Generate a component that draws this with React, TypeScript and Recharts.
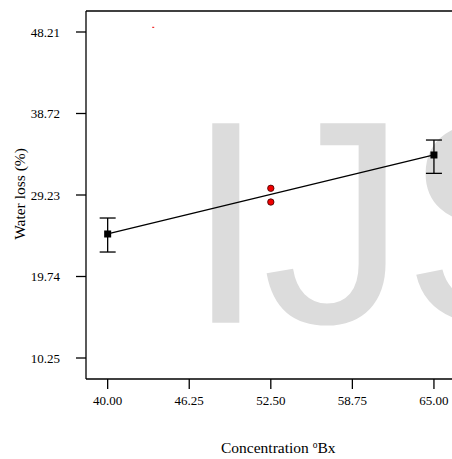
import {
  ComposedChart,
  ErrorBar,
  ReferenceLine,
  Scatter,
  XAxis,
  YAxis,
} from "recharts"

// design points (fitted line ends) with error bars [below, above]
const designX = [40, 65]
const designY = [24.69, 33.89]
const designErr = [
  [2.1, 1.86],
  [2.14, 1.74],
]

// actual runs at the centre point
const centreX = [52.5, 52.5]
const centreY = [30.01, 28.41]

// stray mark near the top
const strayX = [43.49]
const strayY = [48.76]

const X_TICKS = [40, 46.25, 52.5, 58.75, 65]
const Y_TICKS = [10.25, 19.74, 29.23, 38.72, 48.21]
const X_DOMAIN: [number, number] = [38.34, 66.69]
const Y_DOMAIN: [number, number] = [7.805, 50.655]

const SERIF = '"Liberation Serif", "Times New Roman", serif'

const designData = designX.map((x, i) => ({ x, y: designY[i], err: designErr[i] }))
const centreData = centreX.map((x, i) => ({ x, y: centreY[i] }))
const strayData = strayX.map((x, i) => ({ x, y: strayY[i] }))

function SquareDot(p: any) {
  return <rect x={p.cx - 3.5} y={p.cy - 3.5} width={7} height={7} fill="#000" />
}

function RedDot(p: any) {
  return <circle cx={p.cx} cy={p.cy} r={3.2} fill="#f00000" stroke="#3a0000" strokeWidth={0.8} />
}

function TinyDot(p: any) {
  return <rect x={p.cx - 1} y={p.cy - 0.5} width={2} height={1.2} fill="#f03030" />
}

function XTitle() {
  return (
    <text x={221} y={452.5} textAnchor="start" fontFamily={SERIF} fontSize={15.5} fill="#000">
      {"Concentration "}
      <tspan fontSize={9.5} dy={-5}>o</tspan>
      <tspan dy={5}>Bx</tspan>
    </text>
  )
}

function YTitle(props: any) {
  const vb = props.viewBox
  const cy = vb.y + vb.height / 2 - 1
  return (
    <text
      x={24.5}
      y={cy}
      transform={`rotate(-90, 24.5, ${cy})`}
      textAnchor="middle"
      fontFamily={SERIF}
      fontSize={15.5}
      fill="#000"
    >
      Water loss (%)
    </text>
  )
}

export default function App() {
  return (
    <div
      style={{
        position: "absolute",
        left: 0,
        top: 0,
        width: 452,
        height: 459,
        overflow: "hidden",
        background: "#fff",
      }}
    >
      <svg width={452} height={459} style={{ position: "absolute", left: 0, top: 0 }}>
        <text
          x={185.5}
          y={322.7}
          fontFamily='"Liberation Sans", Arial, sans-serif'
          fontSize={290}
          letterSpacing={-4}
          fill="#dcdcdc"
        >
          IJS
        </text>
      </svg>
      <div style={{ position: "absolute", left: 0, top: 0 }}>
        <ComposedChart
          width={456}
          height={459}
          margin={{ top: 11, right: 0, bottom: 0, left: 0 }}
          style={{ fontFamily: SERIF }}
        >
          <XAxis
            type="number"
            dataKey="x"
            domain={X_DOMAIN}
            ticks={X_TICKS}
            allowDataOverflow
            height={80}
            tickSize={10}
            tickMargin={7}
            tickFormatter={(v) => Number(v).toFixed(2)}
            tick={{ fontSize: 13, fill: "#000", fontFamily: SERIF }}
            axisLine={{ stroke: "#000", strokeWidth: 1.3 }}
            tickLine={{ stroke: "#000", strokeWidth: 1.3 }}
            label={<XTitle />}
          />
          <YAxis
            type="number"
            dataKey="y"
            domain={Y_DOMAIN}
            ticks={Y_TICKS}
            allowDataOverflow
            width={86}
            tickSize={10}
            tickMargin={16}
            tickFormatter={(v) => Number(v).toFixed(2)}
            tick={{ fontSize: 13, fill: "#000", fontFamily: SERIF }}
            axisLine={{ stroke: "#000", strokeWidth: 1.3 }}
            tickLine={{ stroke: "#000", strokeWidth: 1.3 }}
            label={<YTitle />}
          />
          <ReferenceLine y={Y_DOMAIN[1]} stroke="#000" strokeWidth={1.3} />
          <Scatter
            data={designData}
            line={{ stroke: "#000", strokeWidth: 1.3 }}
            shape={SquareDot}
            isAnimationActive={false}
          >
            <ErrorBar
              dataKey="err"
              direction="y"
              width={8}
              stroke="#000"
              strokeWidth={1.3}
              isAnimationActive={false}
            />
          </Scatter>
          <Scatter data={centreData} shape={RedDot} isAnimationActive={false} />
          <Scatter data={strayData} shape={TinyDot} isAnimationActive={false} />
        </ComposedChart>
      </div>
    </div>
  )
}
